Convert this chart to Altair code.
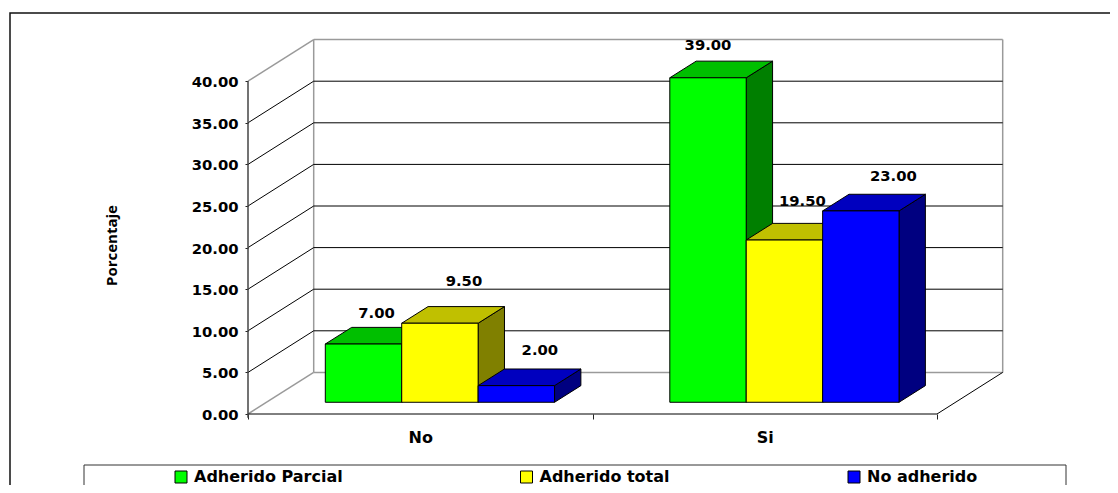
import altair as alt
import pandas as pd

# ---- chart values ----
categories = ["No", "Si"]
series = ["Adherido Parcial", "Adherido total", "No adherido"]
values_no = [7.0, 9.5, 2.0]
values_si = [39.0, 19.5, 23.0]
y_ticks = [0, 5, 10, 15, 20, 25, 30, 35, 40]

# ---- styling and layout ----
front_colors = ["#00FF00", "#FFFF00", "#0000FF"]
top_colors = ["#00BF00", "#C0C000", "#0000BF"]
side_colors = ["#007F00", "#808000", "#000080"]
FONT = "DejaVu Sans"
PX_X, PX_Y = 344.5, 8.32        # pixels per category, per percentage point
WALL_DX, WALL_DY = 0.1907, 5.0  # depth of the floor in data units
BAR_DX, BAR_DY = 0.0765, 2.0    # depth of a bar
BASE_X, BASE_Y = 0.2244, 1.41   # where the first bar stands on the floor
BAR_W = 0.2218
# label offset from centre of the bar's top edge, in px (x right, y up)
label_offsets = {
    ("No", 0): (13, 30), ("No", 1): (24, 41), ("No", 2): (23.5, 35),
    ("Si", 0): (0, 32), ("Si", 1): (18, 38), ("Si", 2): (32.5, 34),
}

W, H = 755, 374
xscale = alt.Scale(domain=[0, W / PX_X], nice=False, zero=False)
yscale = alt.Scale(domain=[0, H / PX_Y], nice=False, zero=False)

x_axis = alt.Axis(
    values=[0, 0.5, 1, 1.5, 2], title=None, grid=False, domain=False,
    labelExpr="datum.value == 0.5 ? 'No' : datum.value == 1.5 ? 'Si' : ''",
    tickOpacity={"condition": {"test": "datum.value == 0.5 || datum.value == 1.5", "value": 0}, "value": 1},
    tickSize=5, tickColor="#222222", labelFont=FONT, labelFontWeight="bold", labelFontSize=16,
    labelColor="black", labelPadding=10, labelAngle=0, labelOverlap=False, labelFlush=False,
    orient="bottom",
)
y_axis = alt.Axis(
    values=y_ticks, format=".2f", title="Porcentaje", grid=False, domain=False,
    tickSize=3, tickColor="#222222", labelFont=FONT, labelFontWeight="bold", labelFontSize=14.8,
    labelColor="black", labelPadding=7, labelOffset=1.5, labelOverlap=False, labelFlush=False,
    titleFont="Open Sans", titleFontWeight="bold", titleFontSize=15, titleColor="black",
    titleX=-137, titleY=205, titleAngle=-90, titleAlign="center", titleBaseline="middle",
    orient="left",
)


def X(field):
    return alt.X(field, type="quantitative", scale=xscale, axis=x_axis)


def Y(field):
    return alt.Y(field, type="quantitative", scale=yscale, axis=y_axis, stack=None)


# ---- tables ----
fronts, tops, sides, labels = [], [], [], []
for c, cat in enumerate(categories):
    vals = values_no if cat == "No" else values_si
    for s, name in enumerate(series):
        v = vals[s]
        a = c + BASE_X + s * BAR_W
        b = a + BAR_W
        t = BASE_Y + v
        bar = f"{cat}{s}"
        fronts.append(dict(a=a, b=b, base=BASE_Y, top=t, serie=name, order=s))
        tops += [
            dict(bar=bar, y=t, xa=a, xb=b, fill=top_colors[s]),
            dict(bar=bar, y=t + BAR_DY, xa=a + BAR_DX, xb=b + BAR_DX, fill=top_colors[s]),
        ]
        sides += [
            dict(bar=bar, x=b, y=t, y2=BASE_Y, fill=side_colors[s]),
            dict(bar=bar, x=b + BAR_DX, y=t + BAR_DY, y2=BASE_Y + BAR_DY, fill=side_colors[s]),
        ]
        ox, oy = label_offsets[(cat, s)]
        labels.append(dict(x=(a + b) / 2 + ox / PX_X, y=t + oy / PX_Y, text=f"{v:.2f}"))

bx0, bx1 = WALL_DX, 2 + WALL_DX
gray_lines = [
    dict(x=bx0, x2=bx0, y=WALL_DY, y2=40 + WALL_DY),
    dict(x=bx1, x2=bx1, y=WALL_DY, y2=40 + WALL_DY),
    dict(x=bx0, x2=bx1, y=40 + WALL_DY, y2=40 + WALL_DY),
    dict(x=bx0, x2=bx1, y=WALL_DY, y2=WALL_DY),
    dict(x=0, x2=bx0, y=0, y2=WALL_DY),
    dict(x=0, x2=bx0, y=40, y2=40 + WALL_DY),
]
black_lines = [dict(x=0, x2=2, y=0, y2=0), dict(x=2, x2=bx1, y=0, y2=WALL_DY)]
for v in y_ticks[1:-1]:
    black_lines.append(dict(x=bx0, x2=bx1, y=v + WALL_DY, y2=v + WALL_DY))
    black_lines.append(dict(x=0, x2=bx0, y=v, y2=v + WALL_DY))


def lines(rows, color, width):
    return alt.Chart(pd.DataFrame(rows)).mark_rule(color=color, strokeWidth=width).encode(
        x=X("x"), x2="x2", y=Y("y"), y2="y2"
    )


walls = lines(gray_lines, "#9A9A9A", 1.5)
grid = lines(black_lines, "#000000", 1)
spine = lines([dict(x=0, x2=0, y=-0.45, y2=40)], "#444444", 1.5)

side_layer = alt.Chart(pd.DataFrame(sides)).mark_area(stroke="black", strokeWidth=1).encode(
    x=X("x"), y=Y("y"), y2="y2", detail="bar:N", fill=alt.Fill("fill:N", scale=None)
)
top_layer = alt.Chart(pd.DataFrame(tops)).mark_area(orient="horizontal", stroke="black", strokeWidth=1).encode(
    y=Y("y"), x=alt.X("xa", type="quantitative", scale=xscale, axis=x_axis, stack=None), x2="xb",
    detail="bar:N", fill=alt.Fill("fill:N", scale=None)
)
front_layer = alt.Chart(pd.DataFrame(fronts)).mark_rect(stroke="black", strokeWidth=1).encode(
    x=X("a"), x2="b", y=Y("base"), y2="top",
    color=alt.Color(
        "serie:N",
        scale=alt.Scale(domain=series, range=front_colors),
        legend=alt.Legend(
            title=None, orient="none", legendX=-75, legendY=429, direction="horizontal", columns=3,
            columnPadding=175.5, padding=0, symbolType="square", symbolSize=144,
            symbolStrokeColor="black", symbolStrokeWidth=1, labelOffset=5,
            labelFont=FONT, labelFontWeight="bold", labelFontSize=16, labelColor="black",
            labelLimit=300,
        ),
    ),
)
text_layer = alt.Chart(pd.DataFrame(labels)).mark_text(
    font=FONT, fontWeight="bold", fontSize=14.8, color="black", baseline="middle", align="center"
).encode(x=X("x"), y=Y("y"), text="text:N")

frame = alt.Chart(pd.DataFrame({"k": [0]})).mark_rect(fillOpacity=0, stroke="#111111", strokeWidth=1.5).encode(
    x=alt.value(-238), x2=alt.value(900), y=alt.value(-27), y2=alt.value(500)
)
legend_box = alt.Chart(pd.DataFrame({"k": [0]})).mark_rect(fillOpacity=0, stroke="#333333", strokeWidth=1).encode(
    x=alt.value(-164), x2=alt.value(818), y=alt.value(425), y2=alt.value(500)
)

chart = alt.layer(
    frame, legend_box, walls, grid, spine, side_layer, top_layer, front_layer, text_layer
).properties(
    width=W, height=H,
    padding={"left": 240, "top": 32, "right": 107, "bottom": 71},
    autosize=alt.AutoSizeParams(type="none"),
    background="white",
).configure_view(stroke=None)

chart.save("out.html", embed_options={"renderer": "svg", "actions": False})
